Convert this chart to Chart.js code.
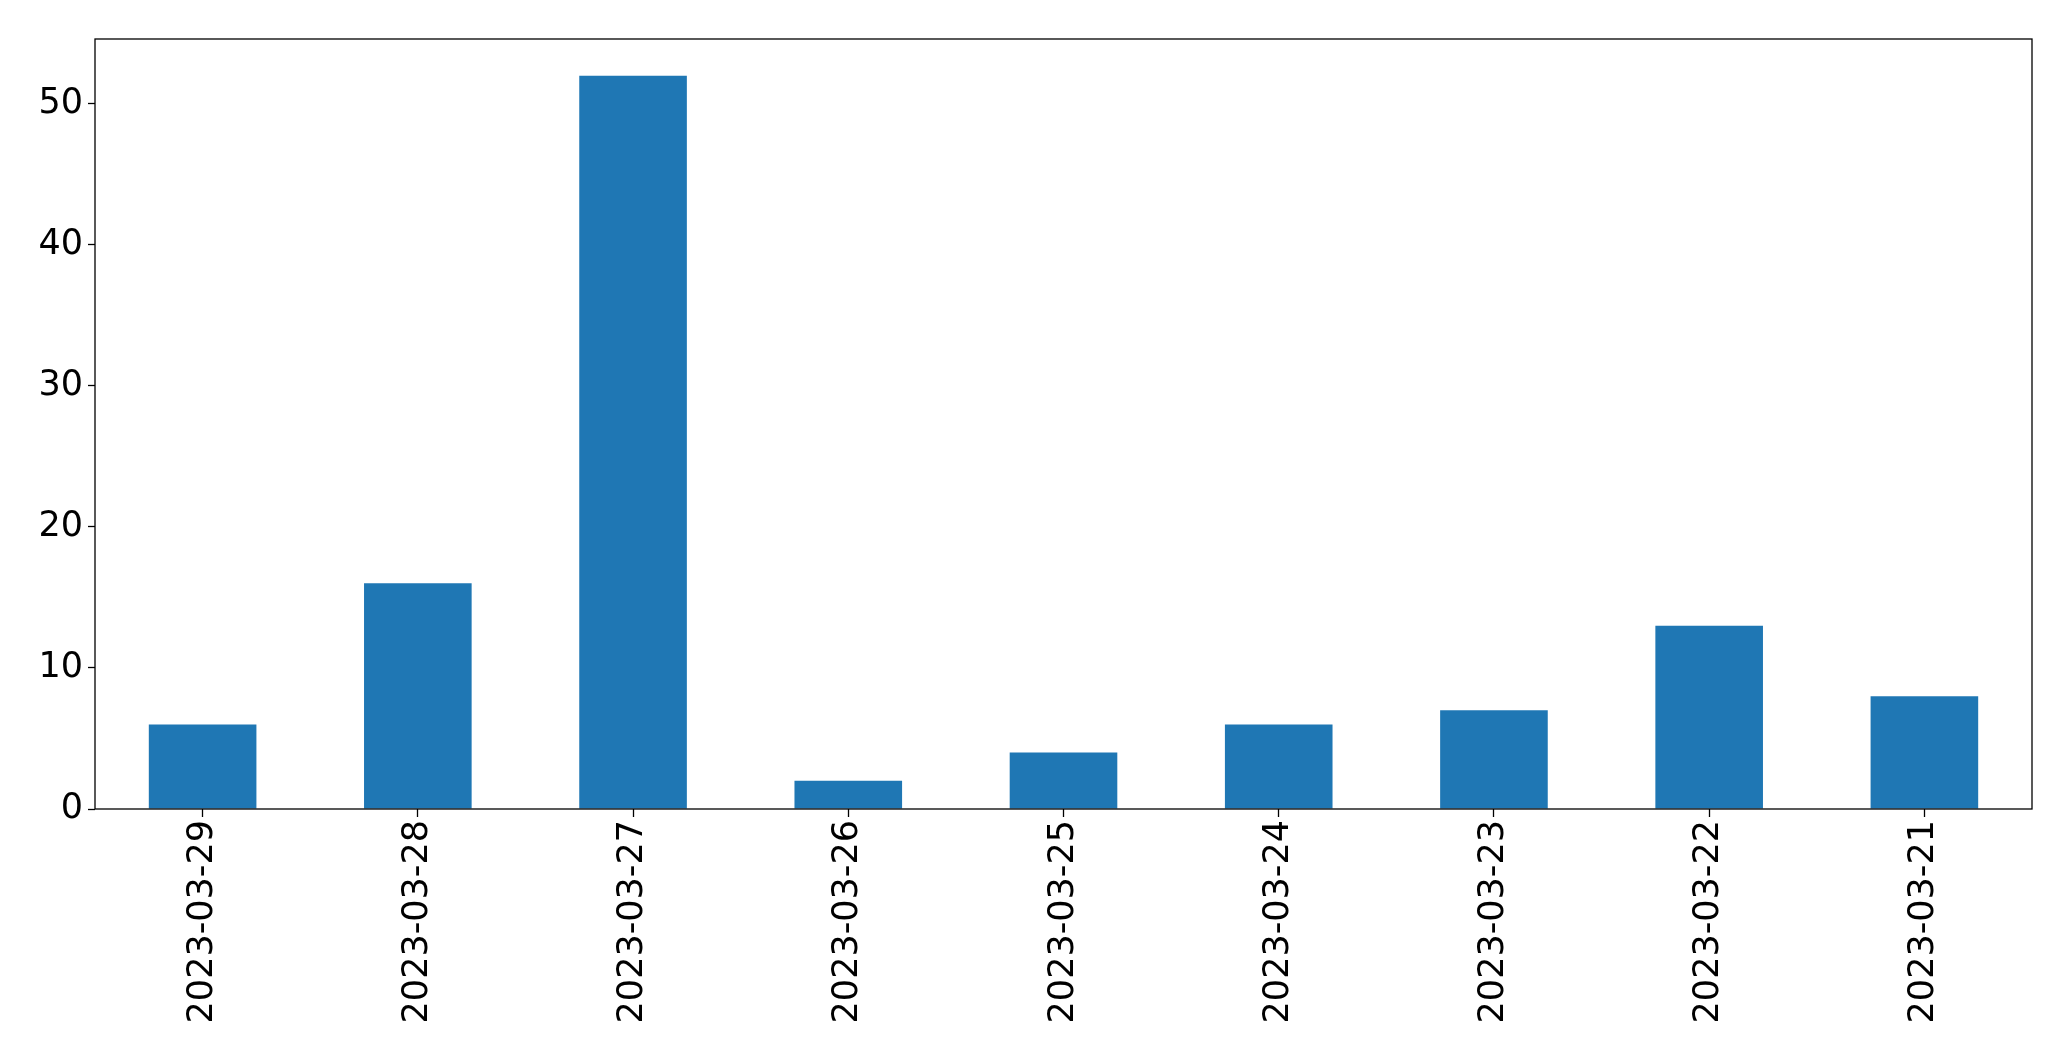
<!DOCTYPE html>
<html>
<head>
<meta charset="utf-8">
<script src="https://cdn.jsdelivr.net/npm/chart.js@4/dist/chart.umd.min.js"></script>
<style>
  html, body { margin: 0; padding: 0; background: #fff; }
  #wrap { width: 2071px; height: 1061px; }
</style>
</head>
<body>
<div id="wrap"><canvas id="chart" width="2071" height="1061"></canvas></div>
<script>
// dates as in the picture, newest first
var dates = ['2023-03-29', '2023-03-28', '2023-03-27', '2023-03-26', '2023-03-25',
             '2023-03-24', '2023-03-23', '2023-03-22', '2023-03-21'];
var counts = [6, 16, 52, 2, 4, 6, 7, 13, 8];
var yTicks = [0, 10, 20, 30, 40, 50];

var FONT = { family: 'DejaVu Sans', size: 35 };

// box round the plot area, like matplotlib spines
var frame = {
  id: 'frame',
  afterDraw: function(chart) {
    var a = chart.chartArea, ctx = chart.ctx;
    ctx.save();
    ctx.strokeStyle = '#000';
    ctx.lineWidth = 1.3;
    ctx.strokeRect(a.left, a.top, a.right - a.left, a.bottom - a.top);
    ctx.restore();
  }
};

var ctx = document.getElementById('chart').getContext('2d');
new Chart(ctx, {
  type: 'bar',
  data: {
    labels: dates,
    datasets: [{
      data: counts,
      backgroundColor: '#1f77b4',
      borderWidth: 0,
      barPercentage: 0.5,
      categoryPercentage: 1
    }]
  },
  options: {
    responsive: false,
    animation: false,
    layout: { padding: { top: 39, right: 39, left: 0, bottom: 0 } },
    plugins: { legend: { display: false }, tooltip: { enabled: false } },
    scales: {
      x: {
        grid: { display: true, drawOnChartArea: false, offset: false, tickLength: 8, color: '#000', tickWidth: 1.3 },
        border: { display: false },
        ticks: { color: '#000', font: FONT, minRotation: 90, maxRotation: 90, padding: 3 },
        afterFit: function(s) { s.height = 1061 - 809; }
      },
      y: {
        min: 0,
        max: 52 * 1.05,
        grid: { display: true, drawOnChartArea: false, tickLength: 7, color: '#000', tickWidth: 1.3 },
        border: { display: false },
        ticks: { color: '#000', font: FONT, padding: 5 },
        afterBuildTicks: function(s) {
          s.ticks = yTicks.map(function(v) { return { value: v }; });
        },
        afterFit: function(s) { s.width = 95; }
      }
    }
  },
  plugins: [frame]
});
</script>
</body>
</html>
